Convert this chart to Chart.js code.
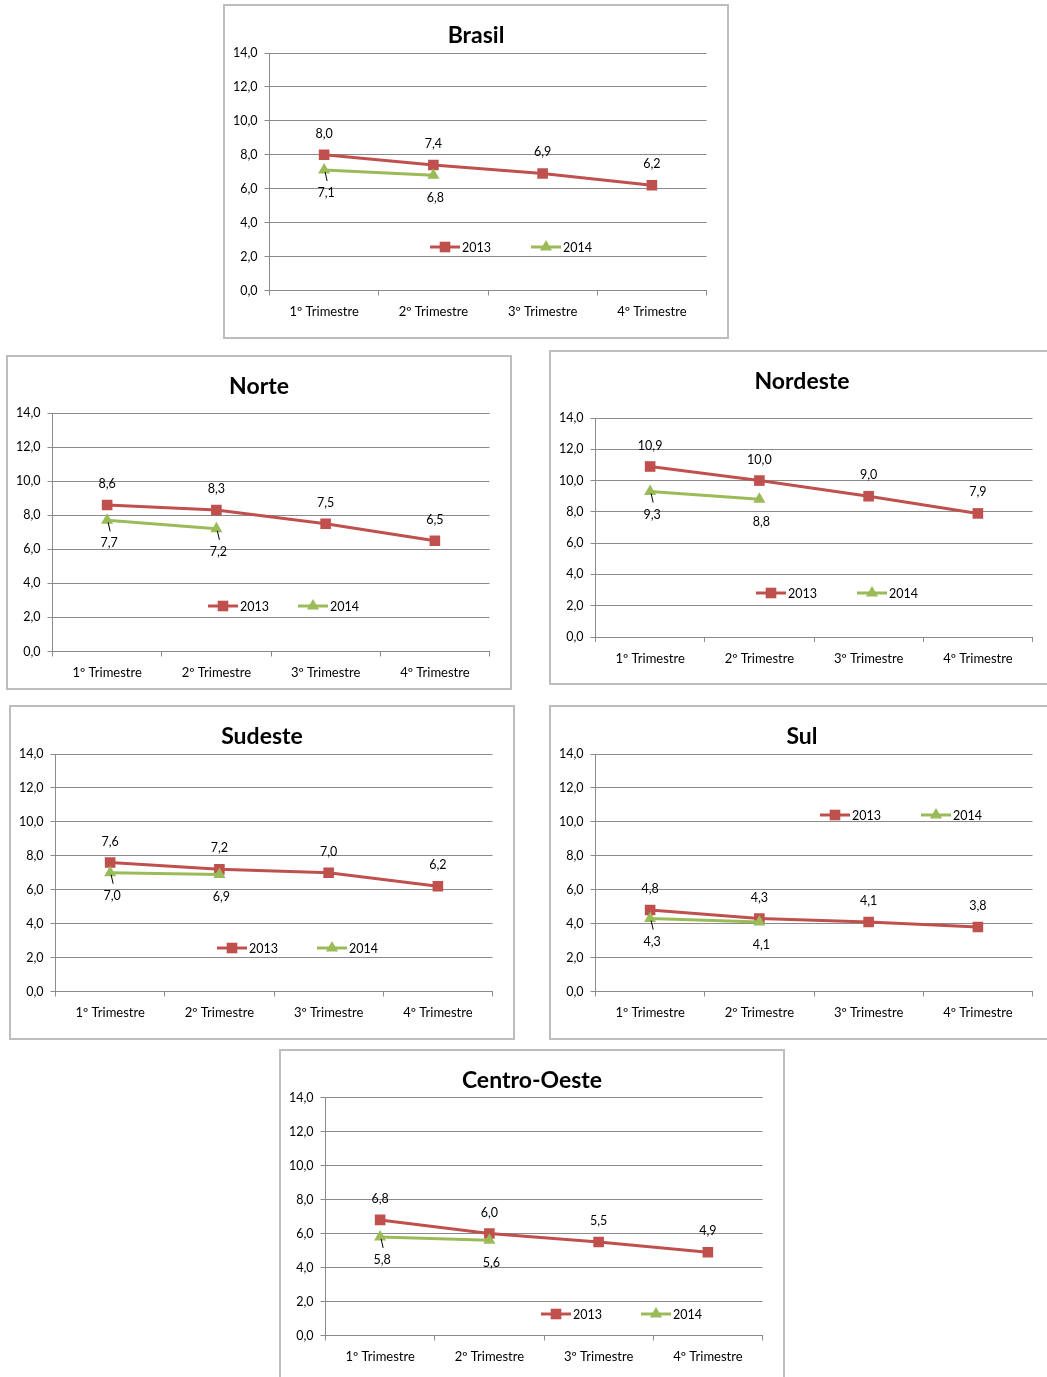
<!DOCTYPE html>
<html lang="pt-BR">
<head>
<meta charset="utf-8">
<title>Trimestres 2013 / 2014</title>
<script src="https://cdn.jsdelivr.net/npm/chart.js@4.4.0/dist/chart.umd.min.js"></script>
<style>
  html, body { margin: 0; padding: 0; background: #fff; overflow: hidden; }
  body { width: 1047px; height: 1377px; position: relative; }
  .box { position: absolute; width: 502px; height: 331px; border: 2px solid #bdbdbd; background: #fff; }
  .box canvas { display: block; }
</style>
</head>
<body>

<div class="box" id="box-brasil" style="left:223px; top:4px;"><canvas id="chart-brasil" width="502" height="331"></canvas></div>
<div class="box" id="box-norte" style="left:6px; top:355px;"><canvas id="chart-norte" width="502" height="331"></canvas></div>
<div class="box" id="box-nordeste" style="left:549px; top:350px;"><canvas id="chart-nordeste" width="502" height="331"></canvas></div>
<div class="box" id="box-sudeste" style="left:9px; top:705px;"><canvas id="chart-sudeste" width="502" height="331"></canvas></div>
<div class="box" id="box-sul" style="left:549px; top:705px;"><canvas id="chart-sul" width="502" height="331"></canvas></div>
<div class="box" id="box-centro" style="left:279px; top:1049px;"><canvas id="chart-centro" width="502" height="331"></canvas></div>

<script>
// Categories and series
const quarters = ['1º Trimestre', '2º Trimestre', '3º Trimestre', '4º Trimestre'];
const seriesNames = ['2013', '2014'];

const brasil2013 = [8.0, 7.4, 6.9, 6.2];
const brasil2014 = [7.1, 6.8, null, null];
const norte2013 = [8.6, 8.3, 7.5, 6.5];
const norte2014 = [7.7, 7.2, null, null];
const nordeste2013 = [10.9, 10.0, 9.0, 7.9];
const nordeste2014 = [9.3, 8.8, null, null];
const sudeste2013 = [7.6, 7.2, 7.0, 6.2];
const sudeste2014 = [7.0, 6.9, null, null];
const sul2013 = [4.8, 4.3, 4.1, 3.8];
const sul2014 = [4.3, 4.1, null, null];
const centro2013 = [6.8, 6.0, 5.5, 4.9];
const centro2014 = [5.8, 5.6, null, null];

const yMin = 0;
const yMax = 14;
const yStep = 2;

const red = '#C0504D';
const green = '#9BBB59';
const gridColor = '#8a8a8a';
const textColor = '#000';
const fontFamily = 'Lato, "Open Sans", sans-serif';

const fmt = v => v.toFixed(1).replace('.', ',');

// panel layout (canvas coords)
const panels = [
    { id: 'chart-brasil', title: 'Brasil', a: brasil2013, b: brasil2014, plotTop: 47, plotBottom: 284.5, legend: [205, 306, 241], leaders: [0] },
    { id: 'chart-norte', title: 'Norte', a: norte2013, b: norte2014, plotTop: 56, plotBottom: 294.5, legend: [200, 290, 249], leaders: [0, 1] },
    { id: 'chart-nordeste', title: 'Nordeste', a: nordeste2013, b: nordeste2014, plotTop: 66, plotBottom: 285, legend: [205, 306, 241], leaders: [0] },
    { id: 'chart-sudeste', title: 'Sudeste', a: sudeste2013, b: sudeste2014, plotTop: 47, plotBottom: 284.5, legend: [206, 306, 241], leaders: [0] },
    { id: 'chart-sul', title: 'Sul', a: sul2013, b: sul2014, plotTop: 47, plotBottom: 284.5, legend: [269, 370, 108], leaders: [0] },
    { id: 'chart-centro', title: 'Centro-Oeste', a: centro2013, b: centro2014, plotTop: 46.5, plotBottom: 284.5, legend: [260, 360, 263], leaders: [0] }
];

// Title centred in the box
const titlePlugin = {
    id: 'boxTitle',
    afterDraw(chart, args, opts) {
        const ctx = chart.ctx;
        ctx.save();
        ctx.font = 'bold 23px ' + fontFamily;
        ctx.fillStyle = '#000';
        ctx.textAlign = 'center';
        ctx.textBaseline = 'middle';
        ctx.fillText(opts.text, chart.width / 2, 30);
        ctx.restore();
    }
};

// Value labels: 2013 above the point, 2014 below
const valueLabels = {
    id: 'valueLabels',
    afterDatasetsDraw(chart, args, opts) {
        const ctx = chart.ctx;
        ctx.save();
        ctx.font = '12.5px ' + fontFamily;
        ctx.fillStyle = '#000';
        ctx.textAlign = 'center';
        ctx.textBaseline = 'middle';
        chart.data.datasets.forEach((ds, di) => {
            const meta = chart.getDatasetMeta(di);
            meta.data.forEach((pt, i) => {
                const v = ds.data[i];
                if (v === null || v === undefined) return;
                if (di === 0) {
                    ctx.fillText(fmt(v), pt.x, pt.y - 21);
                } else {
                    ctx.fillText(fmt(v), pt.x + 2, pt.y + 23);
                    if (opts.leaders.includes(i)) {
                        ctx.strokeStyle = '#000';
                        ctx.lineWidth = 1;
                        ctx.beginPath();
                        ctx.moveTo(pt.x + 1, pt.y + 2);
                        ctx.lineTo(pt.x + 3, pt.y + 11);
                        ctx.stroke();
                    }
                }
            });
        });
        ctx.restore();
    }
};

// Legend drawn inside the plot at fixed spot
const inlineLegend = {
    id: 'inlineLegend',
    afterDraw(chart, args, opts) {
        const ctx = chart.ctx;
        const [x13, x14, y] = opts.pos;
        [x13, x14].forEach((x, di) => {
            const ds = chart.data.datasets[di];
            ctx.save();
            ctx.strokeStyle = ds.borderColor;
            ctx.lineWidth = 3;
            ctx.beginPath();
            ctx.moveTo(x, y);
            ctx.lineTo(x + 30, y);
            ctx.stroke();
            ctx.fillStyle = ds.backgroundColor;
            Chart.helpers.drawPoint(ctx, { pointStyle: ds.pointStyle, radius: ds.pointRadius, borderWidth: 0 }, x + 15, y);
            ctx.fillStyle = textColor;
            ctx.font = '12.5px ' + fontFamily;
            ctx.textAlign = 'left';
            ctx.textBaseline = 'middle';
            ctx.fillText(ds.label, x + 32, y + 1);
            ctx.restore();
        });
    }
};

function makeChart(p) {
    const canvas = document.getElementById(p.id);
    const W = canvas.width, H = canvas.height;
    const plotLeft = 44.5, plotRight = 481.5;

    return new Chart(canvas, {
        type: 'line',
        data: {
            labels: quarters,
            datasets: [{
                label: seriesNames[0],
                data: p.a,
                borderColor: red,
                backgroundColor: red,
                borderWidth: 3,
                pointStyle: 'rect',
                pointRadius: 7.5,
                pointBorderWidth: 0,
                tension: 0,
                order: 1
            }, {
                label: seriesNames[1],
                data: p.b,
                borderColor: green,
                backgroundColor: green,
                borderWidth: 3,
                pointStyle: 'triangle',
                pointRadius: 7,
                pointBorderWidth: 0,
                tension: 0,
                order: 0
            }]
        },
        options: {
            responsive: false,
            animation: false,
            events: [],
            layout: {
                padding: { left: plotLeft - 40, right: W - plotRight, top: p.plotTop, bottom: 0 }
            },
            scales: {
                x: {
                    offset: true,
                    afterFit: s => { s.height = H - p.plotBottom; },
                    grid: { offset: true, drawOnChartArea: false, drawTicks: true, tickLength: 5, color: gridColor },
                    border: { color: gridColor, width: 1 },
                    ticks: { color: textColor, padding: 9, maxRotation: 0, font: { family: fontFamily, size: 13 } }
                },
                y: {
                    min: yMin,
                    max: yMax,
                    afterFit: s => { s.width = 40; },
                    grid: { color: gridColor, tickLength: 5, drawTicks: true },
                    border: { color: gridColor, width: 1 },
                    ticks: { stepSize: yStep, color: textColor, padding: 7, font: { family: fontFamily, size: 12.5 }, callback: v => fmt(v) }
                }
            },
            plugins: {
                legend: { display: false },
                tooltip: { enabled: false },
                boxTitle: { text: p.title },
                valueLabels: { leaders: p.leaders },
                inlineLegend: { pos: p.legend }
            }
        },
        plugins: [titlePlugin, valueLabels, inlineLegend]
    });
}

panels.forEach(makeChart);
</script>
</body>
</html>
